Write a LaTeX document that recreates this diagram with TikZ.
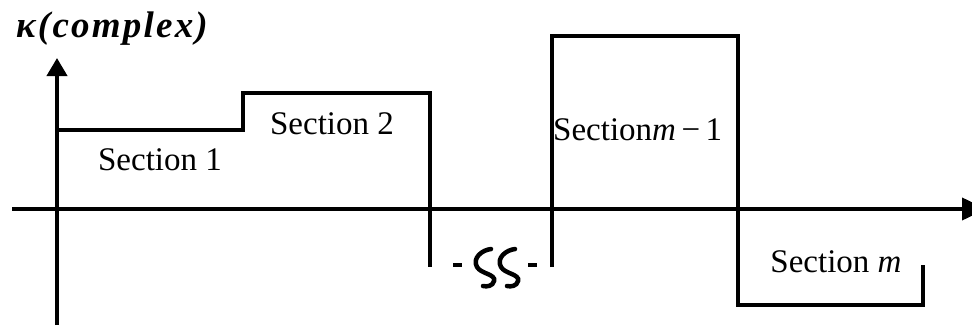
\documentclass[tikz,border=0pt]{standalone}
\usepackage{fontspec}
\setmainfont{Liberation Serif}
\usetikzlibrary{arrows.meta}
\tikzset{
  axis/.style={line width=4pt},
  yhead/.style={-{Triangle[length=18pt,width=20pt]}},
  xhead/.style={-{Triangle[length=24pt,width=22pt]}},
  prof/.style={line width=4.5pt, line join=miter},
  lbl/.style={font=\fontsize{33}{36}\selectfont, inner sep=0pt},
  squig/.style={line width=4.5pt, line cap=round}
}
\begin{document}
\begin{tikzpicture}[x=1pt,y=-1pt]
  \useasboundingbox (0,0) rectangle (972,327);
  % axes
  \coordinate (ybot) at (57,325);
  \coordinate (ytop) at (57,58);
  \coordinate (xl) at (12,209);
  \coordinate (xr) at (986,209);
  \draw[axis, yhead] (ybot) -- (ytop);
  \draw[axis, xhead] (xl) -- (xr);
  % piecewise profile, first part
  \coordinate (p0) at (57,130);
  \coordinate (p1) at (243,130);
  \coordinate (p2) at (243,93);
  \coordinate (p3) at (430,93);
  \coordinate (p4) at (430,267);
  \draw[prof] (p0) -- (p1) -- (p2) -- (p3) -- (p4);
  % piecewise profile, last part
  \coordinate (q0) at (552,267);
  \coordinate (q1) at (552,36);
  \coordinate (q2) at (738,36);
  \coordinate (q3) at (738,305);
  \coordinate (q4) at (923,305);
  \coordinate (q5) at (923,265);
  \draw[prof] (q0) -- (q1) -- (q2) -- (q3) -- (q4) -- (q5);
  % break marks between the parts
  \coordinate (d1a) at (453,265);
  \coordinate (d1b) at (462,265);
  \coordinate (d2a) at (528,265);
  \coordinate (d2b) at (537,265);
  \draw[line width=3.5pt] (d1a) -- (d1b);
  \draw[line width=3.5pt] (d2a) -- (d2b);
  \draw[squig] (491,249) .. controls (482,250) and (472,258) .. (477,267)
               .. controls (481,274) and (496,274) .. (494,281)
               .. controls (493,286) and (487,287) .. (483,286);
  \draw[squig] (515,249) .. controls (506,250) and (496,258) .. (501,267)
               .. controls (505,274) and (520,274) .. (518,281)
               .. controls (517,286) and (511,287) .. (507,286);
  % labels
  \node[font=\fontsize{37}{40}\selectfont\bfseries\itshape\addfontfeature{LetterSpace=6}, inner sep=0pt] (ylab) at (112,29) {κ(complex)};
  \node[lbl] (s1) at (160,160) {Section 1};
  \node[lbl] (s2) at (332,124) {Section 2};
  \node[lbl, anchor=west] (sm1) at (553,130) {Section\textit{m}\,−\,1};
  \node[lbl] (sm) at (836,262) {Section \textit{m}};
\end{tikzpicture}
\end{document}
